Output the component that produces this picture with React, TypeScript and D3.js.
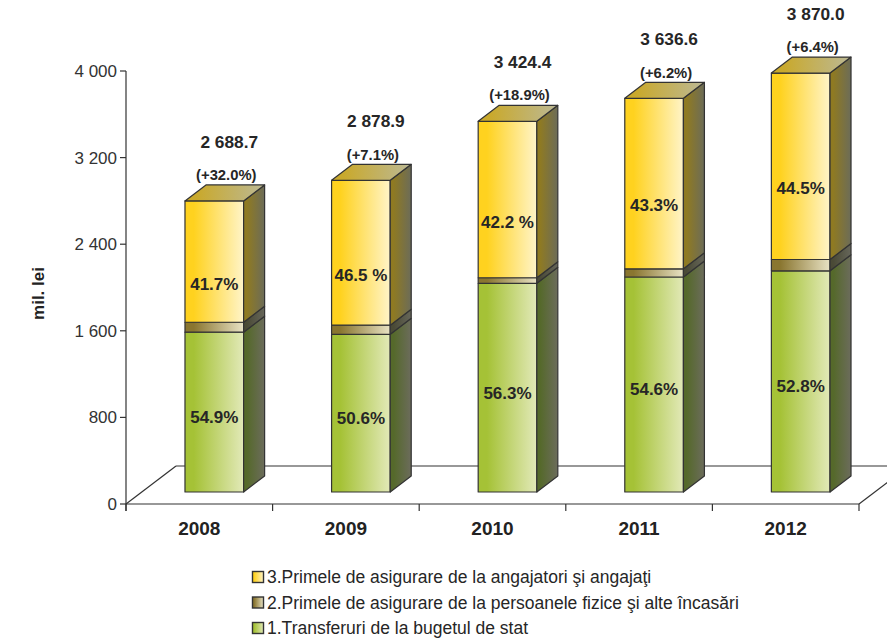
import * as d3 from "d3";

const years = ["2008", "2009", "2010", "2011", "2012"];
// mil. lei
const transfers = [1476, 1457, 1928, 1986, 2043];
const personal = [92, 84, 51, 76, 105];
const contributions = [1121, 1338, 1445, 1575, 1722];
const totals = [2688.7, 2878.9, 3424.4, 3636.6, 3870.0];
const growth = ["(+32.0%)", "(+7.1%)", "(+18.9%)", "(+6.2%)", "(+6.4%)"];
const pctTransfers = ["54.9%", "50.6%", "56.3%", "54.6%", "52.8%"];
const pctContributions = ["41.7%", "46.5 %", "42.2 %", "43.3%", "44.5%"];
const yTicks = [0, 800, 1600, 2400, 3200, 4000];
const legendItems = [
  { key: "yellow", label: "3.Primele de asigurare de la angajatori şi angajaţi" },
  { key: "brown", label: "2.Primele de asigurare de la persoanele fizice şi alte încasări" },
  { key: "green", label: "1.Transferuri de la bugetul de stat" },
];

const width = 887;
const height = 638;
const left = 126;
const right = 859;
const y0 = 504;
const yTop = 71;
const floorDx = 50, floorDy = 38; // floor depth
const frontDx = 15, frontDy = 12; // bar front offset inside floor
const depthDx = 21, depthDy = 16; // bar depth

const font = "Arial, 'Liberation Sans', sans-serif";
const loc = d3.formatLocale({ thousands: " ", grouping: [3], decimal: ".", currency: ["", ""] });
const fmtTotal = loc.format(",.1f");
const fmtTick = loc.format(",");

const x = d3.scaleBand().domain(years).range([left, right]).paddingInner(0).paddingOuter(0);
const y = d3.scaleLinear().domain([0, 4000]).range([y0, yTop]);

const palette: Record<string, { front: [string, string]; side: [string, string]; top: [string, string] }> = {
  green: { front: ["#a5c236", "#e2e9b8"], side: ["#55692a", "#6c6c5c"], top: ["#a5c236", "#b8c290"] },
  brown: { front: ["#8a7630", "#e8e2c4"], side: ["#4a4a36", "#66665a"], top: ["#8a7630", "#bdb89a"] },
  yellow: { front: ["#ffd21f", "#fff4c8"], side: ["#8f7a22", "#6c6c58"], top: ["#c9a92c", "#bcb995"] },
};

const Grad = ({ id, c }: { id: string; c: [string, string] }) => (
  <linearGradient id={id} x1="0" x2="1" y1="0" y2="0">
    <stop offset="0" stopColor={c[0]} />
    <stop offset="0.15" stopColor={c[0]} />
    <stop offset="1" stopColor={c[1]} />
  </linearGradient>
);

export default function App() {
  const bw = x.bandwidth();
  const barW = bw * 0.4;
  const stroke = "#333";

  const bars = years.map((yr, i) => {
    const fx = (x(yr) as number) + bw / 2 - barW / 2 + frontDx;
    const segs = [
      { key: "green", a: 0, b: transfers[i] },
      { key: "brown", a: transfers[i], b: transfers[i] + personal[i] },
      { key: "yellow", a: transfers[i] + personal[i], b: transfers[i] + personal[i] + contributions[i] },
    ];
    return { yr, i, fx, segs };
  });

  return (
    <svg width={width} height={height} style={{ position: "absolute", left: 0, top: 0, background: "#fff" }}>
      <defs>
        {Object.entries(palette).map(([k, p]) => (
          <g key={k}>
            <Grad id={`f-${k}`} c={p.front} />
            <Grad id={`s-${k}`} c={p.side} />
            <Grad id={`t-${k}`} c={p.top} />
          </g>
        ))}
      </defs>

      {/* floor */}
      <g stroke={stroke} strokeWidth={1.2} fill="none">
        <line x1={left} y1={y0} x2={right} y2={y0} />
        <line x1={left} y1={y0} x2={left + floorDx} y2={y0 - floorDy} />
        <line x1={left + floorDx} y1={y0 - floorDy} x2={right + floorDx} y2={y0 - floorDy} />
        <line x1={right} y1={y0} x2={right + floorDx} y2={y0 - floorDy} />
      </g>

      {/* y axis */}
      <g stroke={stroke} strokeWidth={1.2}>
        <line x1={left} y1={yTop} x2={left} y2={y0 + 7} />
        {yTicks.map((t) => (
          <line key={t} x1={left - 6} y1={y(t)} x2={left} y2={y(t)} />
        ))}
        {[...years.map((yr) => x(yr) as number), right].map((v, k) => (
          <line key={k} x1={v} y1={y0} x2={v} y2={y0 + 7} />
        ))}
      </g>
      {yTicks.map((t) => (
        <text key={t} x={left - 9} y={y(t)} dy="0.35em" textAnchor="end" fontFamily={font} fontSize={17} fill="#333">
          {fmtTick(t)}
        </text>
      ))}
      <text transform={`translate(44,${(y0 + yTop) / 2 + 6}) rotate(-90)`} textAnchor="middle" fontFamily={font} fontSize={17} fontWeight="bold" fill="#222">
        mil. lei
      </text>
      {years.map((yr) => (
        <text key={yr} x={(x(yr) as number) + bw / 2} y={535} textAnchor="middle" fontFamily={font} fontSize={19} fontWeight="bold" fill="#222">
          {yr}
        </text>
      ))}

      {/* bars */}
      {bars.map(({ yr, i, fx, segs }) => (
        <g key={yr}>
          {segs.map((s, k) => {
            const ya = y(s.a) - frontDy;
            const yb = y(s.b) - frontDy;
            return (
              <g key={s.key} stroke={stroke} strokeWidth={1.2} strokeLinejoin="round">
                <rect x={fx} y={yb} width={barW} height={ya - yb} fill={`url(#f-${s.key})`} />
                <path
                  d={`M${fx + barW},${yb}L${fx + barW + depthDx},${yb - depthDy}L${fx + barW + depthDx},${ya - depthDy}L${fx + barW},${ya}Z`}
                  fill={`url(#s-${s.key})`}
                />
                {k === segs.length - 1 && (
                  <path
                    d={`M${fx},${yb}L${fx + depthDx},${yb - depthDy}L${fx + barW + depthDx},${yb - depthDy}L${fx + barW},${yb}Z`}
                    fill={`url(#t-${s.key})`}
                  />
                )}
              </g>
            );
          })}
          {/* inner labels */}
          <text
            x={fx + barW / 2}
            y={(y(segs[0].a) + y(segs[0].b)) / 2 - frontDy + 5}
            dy="0.35em"
            textAnchor="middle"
            fontFamily={font}
            fontSize={17}
            fontWeight="bold"
            fill="#262626"
          >
            {pctTransfers[i]}
          </text>
          <text
            x={fx + barW / 2}
            y={(y(segs[2].a) + y(segs[2].b)) / 2 - frontDy + 22}
            dy="0.35em"
            textAnchor="middle"
            fontFamily={font}
            fontSize={17}
            fontWeight="bold"
            fill="#262626"
          >
            {pctContributions[i]}
          </text>
          {/* totals */}
          <text x={fx + barW / 2 + 12} y={y(totals[i]) - frontDy - 26} dy="0.35em" textAnchor="middle" fontFamily={font} fontSize={14.8} fontWeight="bold" fill="#262626">
            {growth[i]}
          </text>
          <text x={fx + barW / 2 + 15} y={y(totals[i]) - frontDy - 59} dy="0.35em" textAnchor="middle" fontFamily={font} fontSize={17.3} fontWeight="bold" fill="#262626">
            {fmtTotal(totals[i])}
          </text>
        </g>
      ))}

      {/* legend */}
      {legendItems.map((it, k) => {
        const cy = 577 + k * 25.5;
        return (
          <g key={it.key}>
            <rect x={252.5} y={cy - 5.5} width={11} height={11} fill={`url(#f-${it.key})`} stroke={stroke} strokeWidth={1.4} />
            <text x={267} y={cy} dy="0.36em" fontFamily={font} fontSize={17.5} fill="#262626">
              {it.label}
            </text>
          </g>
        );
      })}
    </svg>
  );
}
